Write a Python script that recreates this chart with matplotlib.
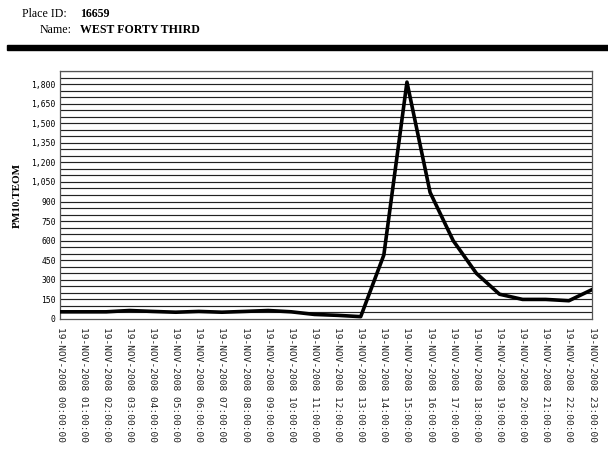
import matplotlib.pyplot as plt
from matplotlib.patches import Rectangle

# hourly PM10 readings, 19-NOV-2008
hours = ['19-NOV-2008 %02d:00:00' % h for h in range(24)]
pm10 = [55, 55, 55, 65, 58, 52, 58, 52, 58, 65, 55, 35,
        28, 18, 490, 1815, 970, 600, 350, 190, 150, 150, 140, 225]

y_ticks = list(range(0, 1801, 150))
y_grid = list(range(50, 1901, 50))

fig = plt.figure(figsize=(6.08, 4.49), dpi=100)

# header
fig.text(22 / 608, 1 - 14 / 449, 'Place ID:', family='Liberation Serif', fontsize=8.6, va='center')
fig.text(80 / 608, 1 - 14 / 449, '16659', family='Liberation Serif', fontsize=8.6,
         fontweight='bold', va='center')
fig.text(40 / 608, 1 - 30 / 449, 'Name:', family='Liberation Serif', fontsize=8.6, va='center')
fig.text(80 / 608, 1 - 30 / 449, 'WEST FORTY THIRD', family='Liberation Serif', fontsize=8.6,
         fontweight='bold', va='center')
fig.patches.append(Rectangle((7 / 608, 1 - 50 / 449), 601 / 608, 5 / 449,
                             transform=fig.transFigure, color='black', zorder=5))

ax = fig.add_axes([60 / 608, 1 - 319 / 449, 532 / 608, 248 / 449])
for g in y_grid:
    ax.axhline(g, color='#222222', lw=0.85, zorder=1)

x = list(range(len(hours)))
ax.plot(x, pm10, color='black', lw=2.6, zorder=3, solid_joinstyle='round')

ax.set_xlim(0, 23)
ax.set_ylim(0, 1900)
ax.set_yticks(y_ticks)
ax.set_yticklabels(['{:,}'.format(v) for v in y_ticks], family='DejaVu Sans Mono', fontsize=5.8)
ax.set_xticks(x)
ax.set_xticklabels(hours, rotation=270, family='DejaVu Sans Mono', fontsize=6.8, va='top',
                   color='#222222')
ax.tick_params(axis='both', length=0, pad=3)
ax.tick_params(axis='x', pad=6)
for s in ax.spines.values():
    s.set_color('#555555')
    s.set_linewidth(0.9)

ax.set_ylabel('PM10.TEOM', family='Liberation Serif', fontweight='bold', fontsize=8, labelpad=7)

fig.savefig('out.png', dpi=100)
